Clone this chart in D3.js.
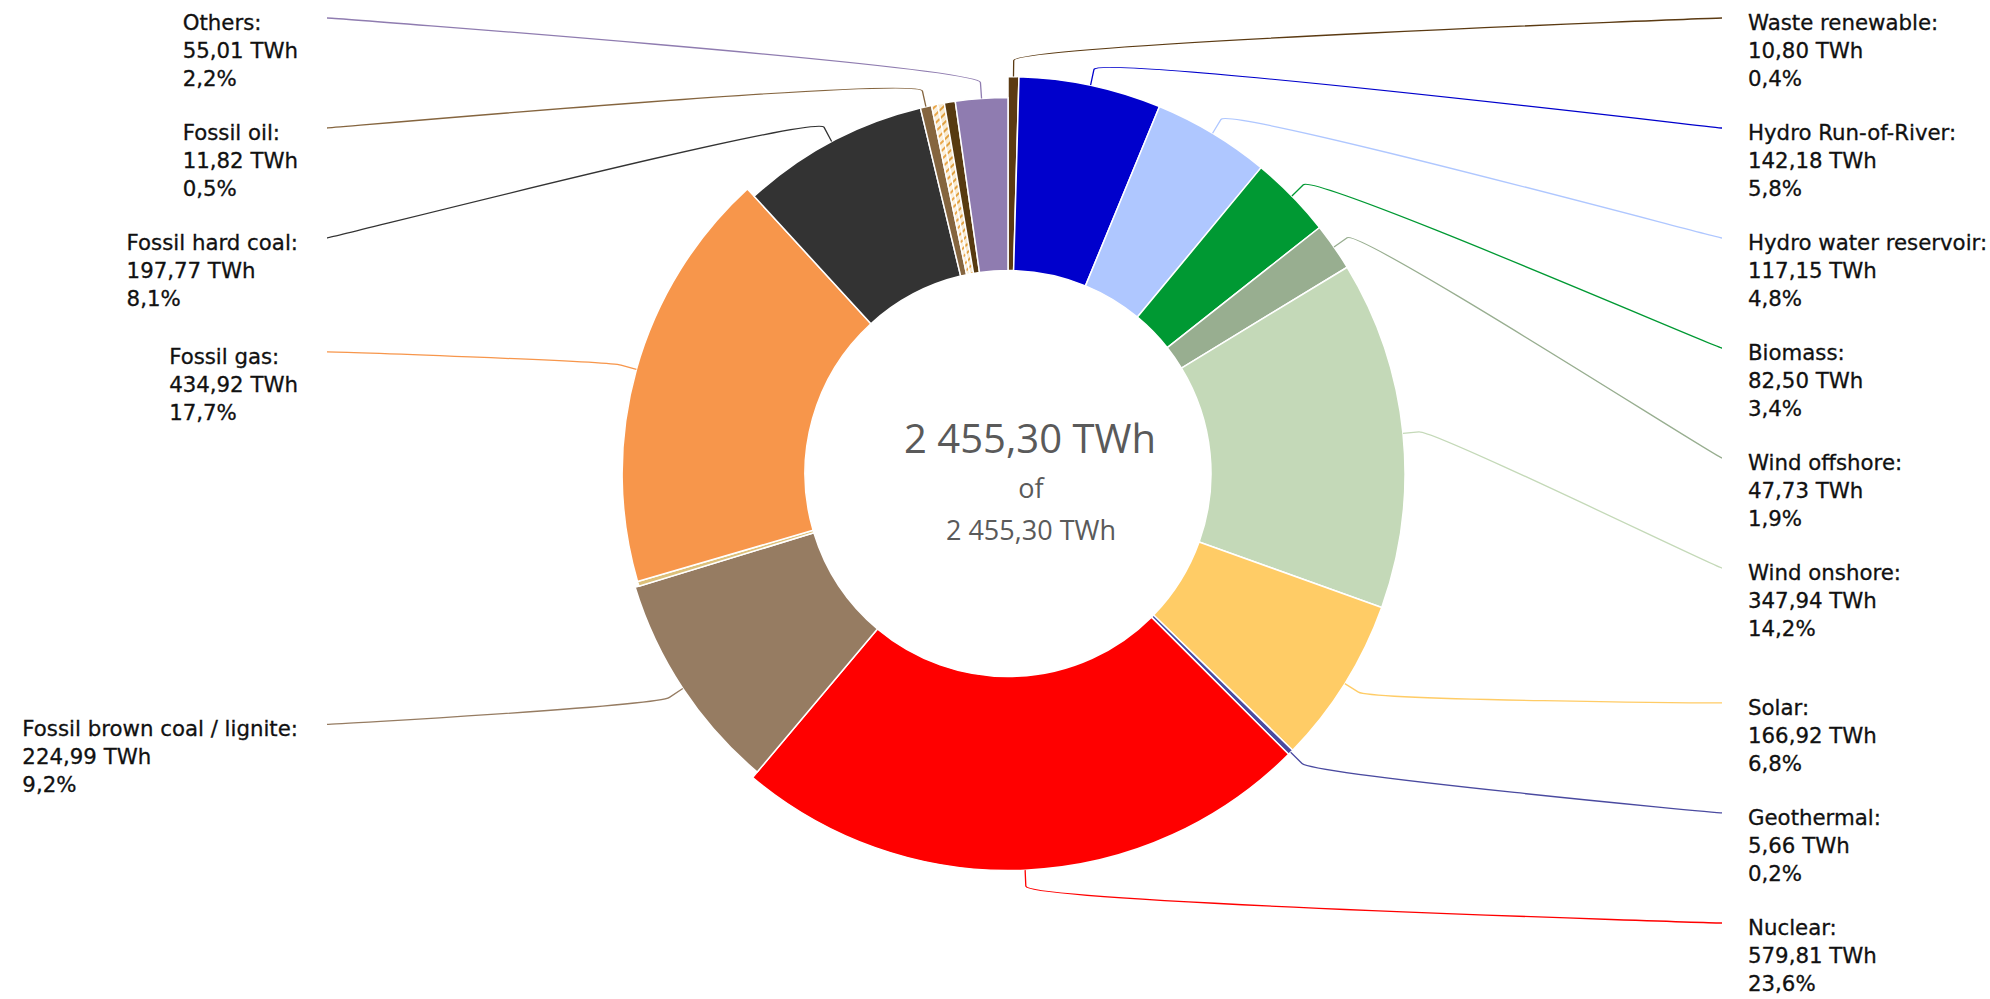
<!DOCTYPE html>
<html><head><meta charset="utf-8">
<script src="https://cdn.jsdelivr.net/npm/d3@7"></script>
<style>body{margin:0;background:#fff}svg{display:block}</style>
</head><body>
<svg id="chart" width="1990" height="999"></svg>
<script>
// ---- data ----
const categories = ["Waste renewable","Hydro Run-of-River","Hydro water reservoir","Biomass","Wind offshore","Wind onshore","Solar","Geothermal","Nuclear","Fossil brown coal / lignite","Fossil coal-derived gas","Fossil gas","Fossil hard coal","Fossil oil","Fossil oil shale","Fossil peat","Waste non-renewable","Others"];
const values = [10.80,142.18,117.15,82.50,47.73,347.94,166.92,5.66,579.81,224.99,5.00,434.92,197.77,11.82,6.50,7.00,11.60,55.01];
// variable-pie "z" values (relative slice depth)
const zValues = [100,100,100,100,100,100,100,100,100,98.2,97.2,97.2,94.7,94.7,94.7,94.7,94.7,94.7];
const colors = ["#5b3a12","#0000cc","#afc7ff","#009933","#98ae90","#c4d9b8","#ffcc66","#4a4aa0","#ff0000","#967c62","#dcc07a","#f7964b","#333333","#85653f","url(#hatchA)","url(#hatchB)","#573a10","#8f7cb0"];
const unlabeled = ["Fossil coal-derived gas","Fossil oil shale","Fossil peat","Waste non-renewable"];
const unit = "TWh";
const ofWord = "of";

// ---- layout ----
const W = 1990, H = 999;
const cx = 1008, cy = 473.5, rOuter = 397, rInner = 203;
const labelDist = 65, breakOff = 16, slot = 110, topAnchor = 18, bottomAnchor = 923;
const leftTextRight = 298, leftConnX = 327, rightConnX = 1722, rightTextX = 1748;
const lineH = 28, firstLineOff = 12;

const loc = d3.formatLocale({decimal: ",", thousands: " ", grouping: [3], currency: ["", ""]});
const fmtVal = loc.format(",.2f");
const fmtPct = loc.format(".1f");

const data = categories.map((c, i) => ({name: c, value: values[i], z: zValues[i], color: colors[i]}));
const total = d3.sum(values);
const rScale = d3.scaleLinear().domain([0, d3.max(zValues)]).range([0, rOuter]);

const svg = d3.select("#chart");
const defs = svg.append("defs");
[["hatchA", "#fbf0dc", "#e9a64a"], ["hatchB", "#f8ead0", "#e0a040"]].forEach(([id, bg, fg]) => {
  const p = defs.append("pattern").attr("id", id).attr("patternUnits", "userSpaceOnUse")
    .attr("width", 6).attr("height", 6).attr("patternTransform", "rotate(45)");
  p.append("rect").attr("width", 6).attr("height", 6).attr("fill", bg);
  p.append("rect").attr("width", 2).attr("height", 6).attr("fill", fg);
});

const pie = d3.pie().value(d => d.value).sort(null).startAngle(0).endAngle(2 * Math.PI);
const arcs = pie(data);
const arc = d3.arc().innerRadius(rInner).outerRadius(d => rScale(d.data.z));

const g = svg.append("g").attr("transform", `translate(${cx},${cy})`);
g.selectAll("path.slice").data(arcs).join("path").attr("class", "slice")
  .attr("d", arc).attr("fill", d => d.data.color)
  .attr("stroke", "#fff").attr("stroke-width", 1.5).attr("stroke-linejoin", "round");

// ---- labels ----
const pt = (a, r) => [cx + r * Math.sin(a), cy - r * Math.cos(a)];
const items = arcs.filter(d => !unlabeled.includes(d.data.name)).map(d => {
  const mid = (d.startAngle + d.endAngle) / 2;
  const r = rScale(d.data.z);
  return {d, mid, r, left: mid > Math.PI, target: pt(mid, r + labelDist)[1]};
});

function distribute(list) {
  list.sort((a, b) => a.target - b.target);
  const groups = list.map(it => ({items: [it]}));
  const place = gr => {
    const n = gr.items.length;
    const mean = d3.mean(gr.items, it => it.target);
    let first = mean - (n - 1) * slot / 2;
    first = Math.max(topAnchor, Math.min(bottomAnchor - (n - 1) * slot, first));
    gr.pos = first;
  };
  groups.forEach(place);
  let changed = true;
  while (changed) {
    changed = false;
    for (let i = 1; i < groups.length; i++) {
      const p = groups[i - 1], q = groups[i];
      if (p.pos + p.items.length * slot > q.pos + 0.01) {
        p.items = p.items.concat(q.items); place(p); groups.splice(i, 1); changed = true; break;
      }
    }
  }
  groups.forEach(gr => gr.items.forEach((it, k) => it.y = gr.pos + k * slot));
}
distribute(items.filter(it => it.left));
distribute(items.filter(it => !it.left));

const conn = svg.append("g").attr("fill", "none");
items.forEach(it => {
  const t = pt(it.mid, it.r), b = pt(it.mid, it.r + breakOff);
  const lx = it.left ? leftConnX : rightConnX, ly = it.y;
  const path = d3.path();
  path.moveTo(lx, ly);
  path.bezierCurveTo(lx + (it.left ? 5 : -5), ly, 2 * b[0] - t[0], 2 * b[1] - t[1], b[0], b[1]);
  path.lineTo(t[0], t[1]);
  conn.append("path").attr("d", path.toString()).attr("stroke", it.d.data.color).attr("stroke-width", 1.3);
});

const lab = svg.append("g").attr("font-family", "'DejaVu Sans', Verdana, sans-serif").attr("font-size", 21.3)
  .attr("fill", "#111").attr("stroke", "#111").attr("stroke-width", 0.3);
items.forEach(it => {
  const lines = [it.d.data.name + ":", fmtVal(it.d.data.value) + " " + unit, fmtPct(it.d.data.value / total * 100) + "%"];
  const t = lab.append("text");
  lines.forEach((s, k) => t.append("tspan").attr("y", it.y + firstLineOff + k * lineH).text(s));
  let x = rightTextX;
  if (it.left) {
    const w = d3.max(t.selectAll("tspan").nodes(), n => n.getComputedTextLength());
    x = leftTextRight - w;
  }
  t.selectAll("tspan").attr("x", x);
});

// ---- center text ----
const ct = svg.append("g").attr("font-family", "'Open Sans', sans-serif").attr("fill", "#5a5a5a").attr("text-anchor", "middle");
ct.append("text").attr("x", 1030).attr("y", 453).attr("font-size", 40).text(fmtVal(total) + " " + unit);
ct.append("text").attr("x", 1031).attr("y", 498).attr("font-size", 27).text(ofWord);
ct.append("text").attr("x", 1031).attr("y", 540).attr("font-size", 27).text(fmtVal(total) + " " + unit);
</script>
</body></html>
